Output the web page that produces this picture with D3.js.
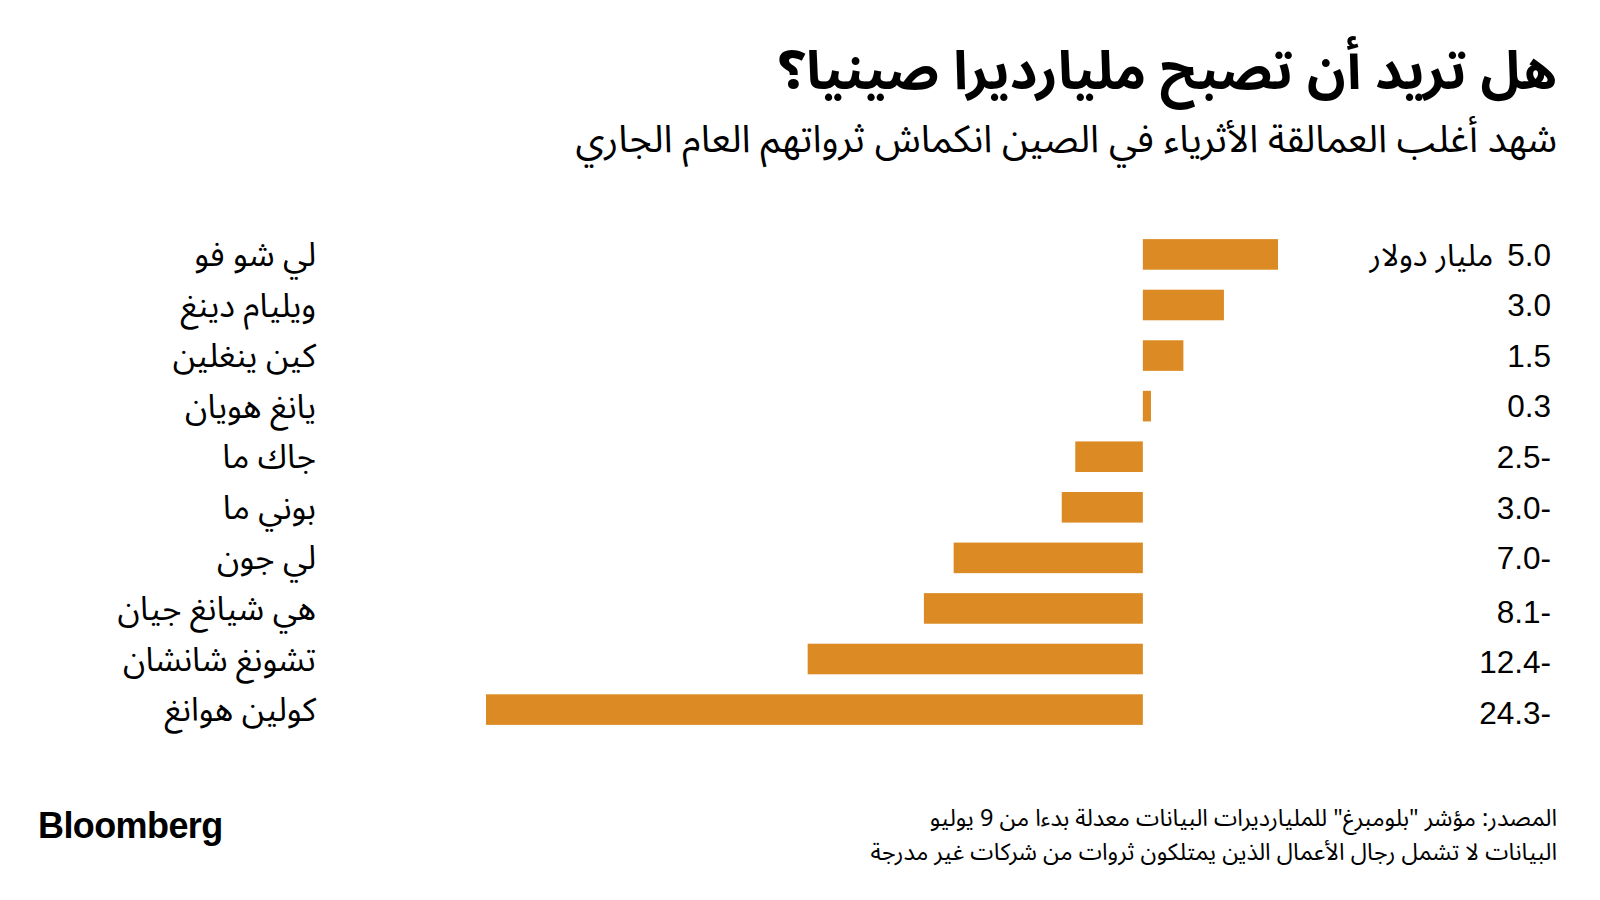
<!DOCTYPE html>
<html><head><meta charset="utf-8">
<script src="https://cdn.jsdelivr.net/npm/d3@7"></script>
<style>
html,body{margin:0;padding:0;background:#fff;}
svg{display:block;}
</style></head>
<body>
<script>
const names = ["لي شو فو","ويليام دينغ","كين ينغلين","يانغ هويان","جاك ما","بوني ما","لي جون","هي شيانغ جيان","تشونغ شانشان","كولين هوانغ"];
const values = [5.0, 3.0, 1.5, 0.3, -2.5, -3.0, -7.0, -8.1, -12.4, -24.3];
const unitLabel = "مليار دولار";
const title = "هل تريد أن تصبح مليارديرا صينيا؟";
const subtitle = "شهد أغلب العمالقة الأثرياء في الصين انكماش ثرواتهم العام الجاري";
const notes = ["المصدر: مؤشر \"بلومبرغ\" للمليارديرات البيانات معدلة بدءا من 9 يوليو","البيانات لا تشمل رجال الأعمال الذين يمتلكون ثروات من شركات غير مدرجة"];

const W = 1600, H = 900;
const arFont = "'Noto Sans Arabic','DejaVu Sans',sans-serif";
const numFont = "'Liberation Sans',Arial,sans-serif";
const svg = d3.select("body").append("svg").attr("width", W).attr("height", H);

const x = d3.scaleLinear().domain([-24.3, 5.0]).range([486, 1278]);
const y = d3.scaleBand().domain(names).range([229, 735]).paddingInner(0.395).paddingOuter(0.2);

function rtl(sel){ return sel.attr("direction","rtl").attr("text-anchor","start").style("unicode-bidi","embed"); }

rtl(svg.append("text").attr("x", 1557).attr("y", 89))
  .style("font-family", arFont).style("font-weight","bold").style("font-size","53.5px").attr("fill","#000").text(title);
rtl(svg.append("text").attr("x", 1557).attr("y", 152))
  .style("font-family", arFont).style("font-size","38px").attr("fill","#000").text(subtitle);

svg.append("g").selectAll("rect").data(values).join("rect")
  .attr("x", d => x(Math.min(0,d))).attr("width", d => Math.abs(x(d)-x(0)))
  .attr("y", (d,i) => y(names[i])).attr("height", y.bandwidth()).attr("fill","#DC8B24");

rtl(svg.append("g").selectAll("text").data(names).join("text")
  .attr("x", 316).attr("y", d => y(d)+y.bandwidth()/2).attr("dy","0.35em"))
  .style("font-family", arFont).style("font-size","33px").attr("fill","#000").text(d => d);

const fmt = d3.format(".1f");
const vl = svg.append("g").selectAll("text").data(values).join("text")
  .attr("x", 1551).attr("y", (d,i) => y(names[i])+y.bandwidth()/2 + (i > 6 ? 3 : 0)).attr("dy","0.36em")
  .attr("text-anchor","end")
  .style("font-family", numFont).style("font-size","31.5px").attr("fill","#000")
  .text(d => d < 0 ? fmt(-d) + "-" : fmt(d));
const firstW = vl.node().getComputedTextLength();
rtl(svg.append("text").attr("x", 1551 - firstW - 14).attr("y", y(names[0])+y.bandwidth()/2).attr("dy","0.36em"))
  .style("font-family", arFont).style("font-size","31px").attr("fill","#000").text(unitLabel);

rtl(svg.append("g").selectAll("text").data(notes).join("text")
  .attr("x", 1557).attr("y", (d,i) => 826 + i*34))
  .style("font-family", arFont).style("font-size","23.5px").attr("fill","#000").text(d => d);

svg.append("text").attr("x", 38).attr("y", 838).style("font-family", numFont).style("font-weight","bold")
  .style("font-size","36px").style("letter-spacing","-0.6px").attr("fill","#000").text("Bloomberg");
</script>
</body></html>
